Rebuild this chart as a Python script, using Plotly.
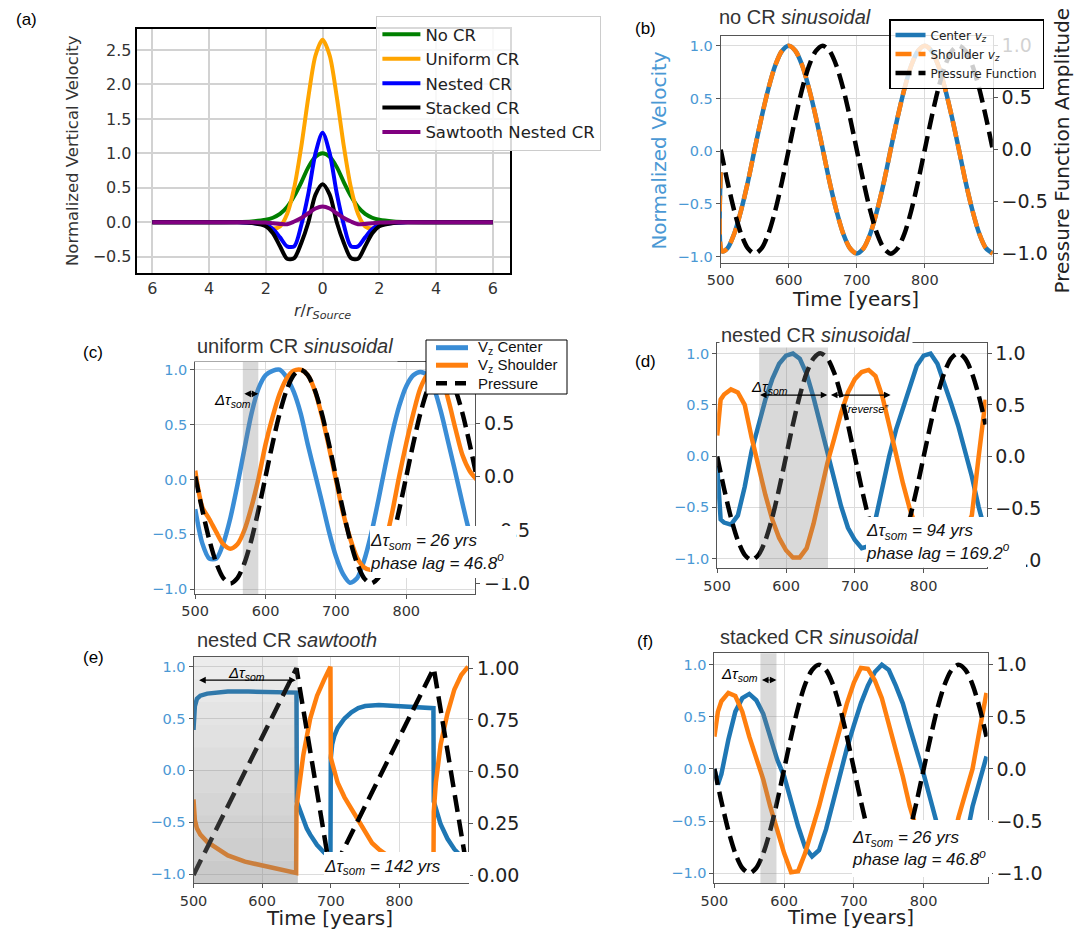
import plotly.graph_objects as go

W, H = 1087, 932

# ---------------- data ----------------
# (a) radial profiles
a_r = [-6, -4, -3, -2.5, -2, -1.75, -1.5, -1.25, -1, -0.75, -0.5, -0.25, 0,
       0.25, 0.5, 0.75, 1, 1.25, 1.5, 1.75, 2, 2.5, 3, 4, 6]
a_no_cr = [0, 0, 0.004, 0.012, 0.035, 0.065, 0.12, 0.22, 0.38, 0.58, 0.8, 0.95, 1.0,
           0.95, 0.8, 0.58, 0.38, 0.22, 0.12, 0.065, 0.035, 0.012, 0.004, 0, 0]
a_uniform = [0, 0, 0, -0.005, -0.04, -0.09, -0.06, 0.12, 0.5, 1.1, 1.82, 2.42, 2.65,
             2.42, 1.82, 1.1, 0.5, 0.12, -0.06, -0.09, -0.04, -0.005, 0, 0, 0]
a_nested = [0, 0, 0, -0.01, -0.04, -0.1, -0.22, -0.35, -0.35, -0.04, 0.42, 1.0, 1.3,
            1.0, 0.42, -0.04, -0.35, -0.35, -0.22, -0.1, -0.04, -0.01, 0, 0, 0]
a_stacked = [0, 0, 0, -0.01, -0.06, -0.16, -0.35, -0.53, -0.52, -0.3, 0.0, 0.4, 0.55,
             0.4, 0.0, -0.3, -0.52, -0.53, -0.35, -0.16, -0.06, -0.01, 0, 0, 0]
a_sawtooth = [0, 0, 0, 0, -0.005, -0.015, -0.025, -0.03, 0.01, 0.06, 0.13, 0.2, 0.23,
              0.2, 0.13, 0.06, 0.01, -0.03, -0.025, -0.015, -0.005, 0, 0, 0, 0]
a_names = ["No CR", "Uniform CR", "Nested CR", "Stacked CR", "Sawtooth Nested CR"]
a_ticks = [-6, -4, -2, 0, 2, 4, 6]
a_ticktext = ["6", "4", "2", "0", "2", "4", "6"]

# time axis
sin_years = [500, 510, 520, 530, 540, 550, 560, 570, 580, 590, 600, 610, 620, 630, 640,
             650, 660, 670, 680, 690, 700, 710, 720, 730, 740, 750, 760, 770, 780, 790,
             800, 810, 820, 830, 840, 850, 860, 870, 880, 890, 900]
pressure_sin = [0, -0.31, -0.59, -0.81, -0.95, -1.0, -0.95, -0.81, -0.59, -0.31, 0,
                0.31, 0.59, 0.81, 0.95, 1.0, 0.95, 0.81, 0.59, 0.31, 0,
                -0.31, -0.59, -0.81, -0.95, -1.0, -0.95, -0.81, -0.59, -0.31, 0,
                0.31, 0.59, 0.81, 0.95, 1.0, 0.95, 0.81, 0.59, 0.31, 0]

# (b) no CR sinusoidal
b_years = [500, 502] + sin_years[1:]
b_center = [-0.2, -0.95, -0.92, -0.78, -0.56, -0.29, 0.02, 0.32, 0.59, 0.81, 0.95, 1.00,
            0.95, 0.81, 0.59, 0.32, 0.02, -0.29, -0.56, -0.78, -0.92, -0.97,
            -0.92, -0.78, -0.56, -0.29, 0.02, 0.32, 0.59, 0.81, 0.95, 1.00,
            0.95, 0.81, 0.59, 0.32, 0.02, -0.29, -0.56, -0.78, -0.92, -0.97]
b_shoulder = b_center

# (c) uniform CR sinusoidal
c_center = [-0.27, -0.58, -0.72, -0.72, -0.58, -0.35, -0.05, 0.28, 0.6, 0.83, 0.95,
            0.99, 1.0, 0.93, 0.8, 0.6, 0.32, 0.06, -0.2, -0.47, -0.7, -0.86, -0.94,
            -0.9, -0.74, -0.5, -0.2, 0.12, 0.42, 0.67, 0.85, 0.95, 0.98, 0.95, 0.82,
            0.6, 0.33, 0.06, -0.22, -0.48, -0.65]
c_shoulder = [0.08, -0.25, -0.36, -0.48, -0.59, -0.63, -0.59, -0.46, -0.25, 0.01, 0.32,
              0.57, 0.78, 0.92, 0.99, 1.0, 0.95, 0.81, 0.58, 0.3, 0.0, -0.3, -0.53,
              -0.71, -0.8, -0.82, -0.76, -0.58, -0.3, 0.03, 0.33, 0.6, 0.83, 0.95, 0.98,
              0.93, 0.72, 0.46, 0.22, 0.08, 0.0]
c_names = ["V<sub>z</sub> Center", "V<sub>z</sub> Shoulder", "Pressure"]

# (d) nested CR sinusoidal
d_years = [500, 505] + sin_years[1:40]
d_center = [-0.1, -0.62, -0.65, -0.67, -0.58, -0.3, 0.05, 0.3, 0.55, 0.75, 0.9, 0.98,
            1.0, 0.95, 0.8, 0.57, 0.3, 0.04, -0.25, -0.49, -0.7, -0.82, -0.9, -0.88,
            -0.62, -0.3, 0.0, 0.26, 0.46, 0.68, 0.88, 0.98, 1.0, 0.9, 0.72, 0.51, 0.3,
            0.06, -0.2, -0.5, -0.75]
d_shoulder = [0.2, 0.55, 0.6, 0.65, 0.62, 0.5, 0.18, -0.12, -0.38, -0.62, -0.8, -0.92,
              -0.99, -0.99, -0.9, -0.66, -0.37, -0.07, 0.17, 0.42, 0.62, 0.75, 0.82,
              0.84, 0.78, 0.58, 0.3, 0.0, -0.27, -0.52, -0.72, -0.86, -0.95, -0.99,
              -0.97, -0.9, -0.82, -0.72, -0.58, 0.0, 0.55]

# (e) nested CR sawtooth
e_center_t = [500, 502, 505, 510, 520, 530, 550, 580, 620, 650,
              650.5, 655, 660, 665, 670, 680, 690, 699.5,
              700, 702, 705, 710, 720, 730, 740, 750, 770, 800, 830, 849.5,
              850, 855, 860, 870, 880, 890, 900]
e_center = [0.39, 0.62, 0.69, 0.72, 0.74, 0.75, 0.76, 0.76, 0.76, 0.75,
            -0.3, -0.38, -0.48, -0.56, -0.62, -0.72, -0.79, -0.84,
            0.12, 0.25, 0.33, 0.41, 0.5, 0.56, 0.6, 0.62, 0.63, 0.62, 0.61, 0.6,
            -0.3, -0.42, -0.52, -0.66, -0.76, -0.83, -0.88]
e_shoulder_t = [500, 502, 505, 510, 520, 535, 550, 575, 600, 625,
                649.5, 650, 655, 660, 670, 680, 690, 699.5,
                700, 705, 710, 720, 730, 740, 750, 760, 770, 780,
                800, 825, 849.5, 850, 853, 860, 870, 880, 890, 900]
e_shoulder = [-0.28, -0.48, -0.56, -0.62, -0.69, -0.76, -0.82, -0.88, -0.92, -0.96,
              -0.99, -0.35, -0.1, 0.15, 0.5, 0.72, 0.87, 1.0,
              0.12, 0.0, -0.12, -0.26, -0.37, -0.48, -0.6, -0.7, -0.76, -0.81,
              -0.88, -0.94, -0.98, -0.4, -0.12, 0.25, 0.55, 0.78, 0.92, 1.0]
e_pressure_t = [500, 650, 700, 850, 900]
e_pressure = [0, 1, 0, 1, 0]

# (f) stacked CR sinusoidal
f_years = [500, 505] + sin_years[1:40]
f_center = [0.0, -0.15, -0.05, 0.28, 0.55, 0.68, 0.72, 0.66, 0.53, 0.32, 0.09, -0.07,
            -0.33, -0.55, -0.75, -0.84, -0.78, -0.58, -0.32, -0.05, 0.2, 0.42, 0.63,
            0.8, 0.93, 1.0, 0.95, 0.8, 0.63, 0.4, 0.18, -0.05, -0.3, -0.55, -0.75,
            -0.88, -0.9, -0.7, -0.36, -0.12, 0.12]
f_shoulder = [0.31, 0.55, 0.65, 0.73, 0.7, 0.55, 0.31, 0.1, -0.1, -0.36, -0.6, -0.81,
              -0.99, -0.98, -0.81, -0.6, -0.36, -0.1, 0.15, 0.4, 0.63, 0.83, 0.97,
              0.96, 0.85, 0.68, 0.44, 0.18, -0.07, -0.36, -0.6, -0.8, -0.92, -0.97,
              -0.92, -0.75, -0.46, -0.22, 0.0, 0.37, 0.73]

year_ticks = [500, 600, 700, 800]
vel_ticks = [-1, -0.5, 0, 0.5, 1]
vel_ticktext = ["\u22121.0", "\u22120.5", "0.0", "0.5", "1.0"]
saw_ticks = [0, 0.25, 0.5, 0.75, 1.0]
saw_ticktext = ["0.00", "0.25", "0.50", "0.75", "1.00"]

# ---------------- style ----------------
BLUE = "#1f77b4"
BLUE_C = "#3a8dd6"
ORANGE = "#ff7f0e"
TICKBLUE = "#4a98d4"
FRAME = "#555555"
GRID = "#dcdcdc"
TXT = "#2b2b2b"
DJ = "DejaVu Sans"
LS = "Liberation Sans"
DASH = "16px,7px"
LW = 4.5


def px(x):
    return x / W


def py(y):
    return 1 - y / H


def xd(a, b):
    return [a / W, b / W]


def yd(top, bottom):
    return [1 - bottom / H, 1 - top / H]


fig = go.Figure()

# (a)
a_colors = ["green", "orange", "blue", "black", "purple"]
for name, vals, col in zip(a_names, [a_no_cr, a_uniform, a_nested, a_stacked, a_sawtooth], a_colors):
    fig.add_trace(go.Scatter(x=a_r, y=vals, mode="lines", name=name,
                             line=dict(color=col, width=4, shape="spline", smoothing=0.8),
                             xaxis="x", yaxis="y", legend="legend"))

# (b)
fig.add_trace(go.Scatter(x=b_years, y=b_center, mode="lines", name="Center <i>v<sub>z</sub></i>",
                         line=dict(color=BLUE, width=LW, shape="spline", smoothing=0.8),
                         xaxis="x2", yaxis="y2", legend="legend2"))
fig.add_trace(go.Scatter(x=b_years, y=b_shoulder, mode="lines", name="Shoulder <i>v<sub>z</sub></i>",
                         line=dict(color=ORANGE, width=LW, dash=DASH, shape="spline", smoothing=0.8),
                         xaxis="x2", yaxis="y2", legend="legend2"))
fig.add_trace(go.Scatter(x=sin_years, y=pressure_sin, mode="lines", name="Pressure Function",
                         line=dict(color="black", width=LW, dash=DASH, shape="spline", smoothing=0.8),
                         xaxis="x2", yaxis="y3", legend="legend2"))

# (c)
fig.add_trace(go.Scatter(x=sin_years, y=c_center, mode="lines", name=c_names[0], showlegend=False,
                         line=dict(color=BLUE_C, width=LW, shape="spline", smoothing=0.8),
                         xaxis="x3", yaxis="y4"))
fig.add_trace(go.Scatter(x=sin_years, y=c_shoulder, mode="lines", name=c_names[1], showlegend=False,
                         line=dict(color=ORANGE, width=LW, shape="spline", smoothing=0.8),
                         xaxis="x3", yaxis="y4"))
fig.add_trace(go.Scatter(x=sin_years, y=pressure_sin, mode="lines", name=c_names[2], showlegend=False,
                         line=dict(color="black", width=LW, dash=DASH, shape="spline", smoothing=0.8),
                         xaxis="x3", yaxis="y5"))

# (d)
fig.add_trace(go.Scatter(x=d_years, y=d_center, mode="lines", showlegend=False,
                         line=dict(color=BLUE, width=LW), xaxis="x4", yaxis="y6"))
fig.add_trace(go.Scatter(x=d_years, y=d_shoulder, mode="lines", showlegend=False,
                         line=dict(color=ORANGE, width=LW), xaxis="x4", yaxis="y6"))
fig.add_trace(go.Scatter(x=sin_years[:40], y=pressure_sin[:40], mode="lines", showlegend=False,
                         line=dict(color="black", width=LW, dash=DASH, shape="spline", smoothing=0.8),
                         xaxis="x4", yaxis="y7"))

# (e)
fig.add_trace(go.Scatter(x=e_center_t, y=e_center, mode="lines", showlegend=False,
                         line=dict(color=BLUE, width=LW), xaxis="x5", yaxis="y8"))
fig.add_trace(go.Scatter(x=e_shoulder_t, y=e_shoulder, mode="lines", showlegend=False,
                         line=dict(color=ORANGE, width=LW), xaxis="x5", yaxis="y8"))
fig.add_trace(go.Scatter(x=e_pressure_t, y=e_pressure, mode="lines", showlegend=False,
                         line=dict(color="black", width=LW, dash="17px,8px"), xaxis="x5", yaxis="y9"))

# (f)
fig.add_trace(go.Scatter(x=f_years, y=f_center, mode="lines", showlegend=False,
                         line=dict(color=BLUE, width=LW), xaxis="x6", yaxis="y10"))
fig.add_trace(go.Scatter(x=f_years, y=f_shoulder, mode="lines", showlegend=False,
                         line=dict(color=ORANGE, width=LW), xaxis="x6", yaxis="y10"))
fig.add_trace(go.Scatter(x=sin_years[:40], y=pressure_sin[:40], mode="lines", showlegend=False,
                         line=dict(color="black", width=LW, dash=DASH, shape="spline", smoothing=0.8),
                         xaxis="x6", yaxis="y11"))


# ---------------- axes ----------------
def xax(dom, rng, anchor, tv, tt, size=14.5, lc=FRAME, lw=1, gc=GRID, gw=1, ticks="outside"):
    return dict(domain=dom, range=rng, anchor=anchor, showline=True, mirror=True,
                linecolor=lc, linewidth=lw, showgrid=True, gridcolor=gc, gridwidth=gw,
                zeroline=False, tickmode="array", tickvals=tv, ticktext=tt,
                ticks=ticks, ticklen=4, tickcolor=lc,
                tickfont=dict(family=DJ, size=size, color="#333"))


def yleft(dom, rng, anchor, tv, tt, size=14.5, color=TICKBLUE, lc=FRAME, lw=1,
          gc=GRID, gw=1, mirror=False, ticks="outside"):
    return dict(domain=dom, range=rng, anchor=anchor, showline=True, mirror=mirror,
                linecolor=lc, linewidth=lw, showgrid=True, gridcolor=gc, gridwidth=gw,
                zeroline=False, tickmode="array", tickvals=tv, ticktext=tt,
                ticks=ticks, ticklen=4, tickcolor=lc,
                tickfont=dict(family=DJ, size=size, color=color))


def yright(overlay, anchor, rng, tv, tt):
    return dict(overlaying=overlay, side="right", anchor=anchor, range=rng,
                showline=True, linecolor=FRAME, linewidth=1, showgrid=False,
                zeroline=False, tickmode="array", tickvals=tv, ticktext=tt,
                ticks="outside", ticklen=4, tickcolor=FRAME,
                tickfont=dict(family=DJ, size=19, color="#222"))


yt = [str(v) for v in year_ticks]
layout = dict(
    width=W, height=H,
    margin=dict(l=0, r=0, t=0, b=0, autoexpand=False),
    paper_bgcolor="white", plot_bgcolor="white",
    font=dict(family=DJ, color=TXT),
    showlegend=True,
    # (a)
    xaxis=xax(xd(136.7, 509.6), [-6.55, 6.59], "y", a_ticks, a_ticktext, size=16,
              lc="black", lw=2, gc="#d2d2d2", gw=1.5, ticks=""),
    yaxis=yleft(yd(29, 273), [-0.737, 2.805], "x", [-0.5, 0, 0.5, 1, 1.5, 2, 2.5],
                ["\u22120.5", "0.0", "0.5", "1.0", "1.5", "2.0", "2.5"], size=16,
                color="#333", lc="black", lw=2, gc="#d2d2d2", gw=1.5, mirror=True, ticks=""),
    # (b)
    xaxis2=xax(xd(720.7, 992.8), [500, 900], "y2", year_ticks, yt),
    yaxis2=yleft(yd(35.7, 262.7), [-1.057, 1.095], "x2", vel_ticks, vel_ticktext),
    yaxis3=yright("y2", "x2", [-1.087, 1.096], vel_ticks, vel_ticktext),
    # (c)
    xaxis3=xax(xd(195.2, 475.2), [500, 898], "y4", year_ticks, yt),
    yaxis4=yleft(yd(361.7, 594), [-1.043, 1.073], "x3", vel_ticks, vel_ticktext),
    yaxis5=yright("y4", "x3", [-1.099, 1.075], vel_ticks, vel_ticktext),
    # (d)
    xaxis4=xax(xd(717.2, 986.5), [500, 891.3], "y6", year_ticks, yt),
    yaxis6=yleft(yd(343.3, 568.3), [-1.096, 1.1], "x4", vel_ticks, vel_ticktext),
    yaxis7=yright("y6", "x4", [-1.08, 1.095], vel_ticks, vel_ticktext),
    # (e)
    xaxis5=xax(xd(193.5, 468.3), [500, 900.3], "y8", year_ticks, yt),
    yaxis8=yleft(yd(656.7, 883.3), [-1.089, 1.096], "x5", vel_ticks, vel_ticktext),
    yaxis9=yright("y8", "x5", [-0.04, 1.056], saw_ticks, saw_ticktext),
    # (f)
    xaxis6=xax(xd(714.4, 987.6), [500, 891.6], "y10", year_ticks, yt),
    yaxis10=yleft(yd(653.3, 883.3), [-1.097, 1.11], "x6", vel_ticks, vel_ticktext),
    yaxis11=yright("y10", "x6", [-1.097, 1.11], vel_ticks, vel_ticktext),
    # legends
    legend=dict(x=px(376.4), y=py(16), xanchor="left", yanchor="top",
                bgcolor="rgba(255,255,255,0.85)", bordercolor="#cccccc", borderwidth=1,
                font=dict(family=DJ, size=16.5, color="#222"), itemwidth=38),
    legend2=dict(x=px(889), y=py(19), xanchor="left", yanchor="top",
                 bgcolor="rgba(255,255,255,0.8)", bordercolor="black", borderwidth=1.5,
                 font=dict(family=DJ, size=12, color="#222"), itemwidth=30),
)
fig.update_layout(**layout)

# ---------------- shading ----------------
SHADE = "rgba(128,128,128,0.3)"
fig.add_shape(type="rect", xref="x3", yref="y4 domain", x0=567.7, x1=589.7, y0=0, y1=1,
              fillcolor=SHADE, line_width=0, layer="above")
fig.add_shape(type="rect", xref="x4", yref="y6 domain", x0=561, x1=661, y0=0, y1=1,
              fillcolor=SHADE, line_width=0, layer="above")
fig.add_shape(type="rect", xref="x6", yref="y10 domain", x0=566, x1=589, y0=0, y1=1,
              fillcolor=SHADE, line_width=0, layer="above")
n_bands = 10
for i in range(n_bands):
    alpha = 0.42 - (0.42 - 0.15) * i / (n_bands - 1)
    fig.add_shape(type="rect", xref="x5", yref="y8 domain", x0=500, x1=652,
                  y0=i / n_bands, y1=(i + 1) / n_bands,
                  fillcolor="rgba(128,128,128,%.3f)" % alpha, line_width=0, layer="above")

# legend box of panel (c)
fig.add_shape(type="rect", xref="paper", yref="paper", x0=px(426), x1=px(567),
              y0=py(394), y1=py(340), fillcolor="white", line=dict(color="black", width=1),
              layer="above")
c_leg_y = [347.7, 365.2, 383.3]
c_leg_style = [dict(color=BLUE_C, width=5), dict(color=ORANGE, width=5),
               dict(color="black", width=4.5, dash="11px,8px")]
for yy, st in zip(c_leg_y, c_leg_style):
    fig.add_shape(type="line", xref="paper", yref="paper", x0=px(436), x1=px(468),
                  y0=py(yy), y1=py(yy), line=st, layer="above")

# ---------------- annotations ----------------
ann = []


def label(text, x, y, size, family=LS, color="black", xanchor="center", **kw):
    d = dict(text=text, x=px(x), y=py(y), xref="paper", yref="paper", showarrow=False,
             xanchor=xanchor, yanchor="middle", font=dict(family=family, size=size, color=color))
    d.update(kw)
    ann.append(d)


# panel letters
for t, x, y in [("(a)", 26, 20), ("(b)", 645, 28), ("(c)", 93, 353),
                ("(d)", 645, 362), ("(e)", 93, 657), ("(f)", 645, 641)]:
    label(t, x, y, 17)

# legend (c) texts
for t, yy in zip(c_names, c_leg_y):
    label(t, 476, yy, 15, color="#111", xanchor="left")

# panel titles
label("no CR <i>sinusoidal</i>", 717, 17, 20, color="#333", xanchor="left")
label("uniform CR <i>sinusoidal</i>", 192, 346, 20, color="#333", xanchor="left",
      bgcolor="white", borderpad=4)
label("nested CR <i>sinusoidal</i>", 719, 335, 20, color="#333", xanchor="left",
      bgcolor="white", borderpad=1)
label("nested CR <i>sawtooth</i>", 195, 640, 20, color="#333", xanchor="left")
label("stacked CR <i>sinusoidal</i>", 717.6, 637, 20, color="#333", xanchor="left")

# axis titles
label("Normalized Vertical Velocity", 72, 151, 16.5, family=DJ, color="#333", textangle=-90)
label("<i>r</i>/<i>r</i><sub><i>Source</i></sub>", 322, 311, 16, family=DJ, color="#333")
label("Normalized Velocity", 658.6, 151, 20, family=DJ, color=TICKBLUE, textangle=-90)
label("Pressure Function Amplitude", 1061.5, 151, 20, family=DJ, color="#222", textangle=-90)
label("Time [years]", 855.7, 299, 20, family=DJ, color="#222")
label("Time [years]", 329, 918, 20, family=DJ, color="#222")
label("Time [years]", 850.5, 917, 20, family=DJ, color="#222")

# delta-tau labels
label("<i>\u0394\u03c4<sub>som</sub></i>", 232, 400, 15)
label("<i>\u0394\u03c4<sub>som</sub></i>", 769, 387, 15)
label("<i>\u201creverse\u201d</i>", 866, 409, 11)
label("<i>\u0394\u03c4<sub>som</sub></i>", 246.5, 673, 15)
label("<i>\u0394\u03c4<sub>som</sub></i>", 739.7, 674, 15)


def darrow(xr, yr, x0, x1, y):
    ann.append(dict(x=x1, y=y, xref=xr, yref=yr, ax=x0, ay=y, axref=xr, ayref=yr,
                    text="", showarrow=True, arrowhead=2, arrowside="end+start",
                    arrowsize=1.1, arrowwidth=1.2, arrowcolor="black",
                    standoff=0, startstandoff=0))


darrow("x3", "y4", 567.7, 589.7, 0.78)
darrow("x4", "y6", 560, 660, 0.595)
darrow("x4", "y6", 663, 752, 0.595)
darrow("x5", "y8", 506, 649, 0.87)
darrow("x6", "y10", 566, 589, 0.854)


# result boxes
def box(lines, x, y, w, h):
    ann.append(dict(text="<br>".join("<i>%s</i>" % s for s in lines),
                    x=px(x), y=py(y), xref="paper", yref="paper", xanchor="left",
                    yanchor="top", width=w, height=h, align="left", valign="middle",
                    bgcolor="white", borderpad=0, borderwidth=0, showarrow=False,
                    font=dict(family=LS, size=17, color="#111")))


box(["\u0394\u03c4<sub>som</sub> = 26 yrs", "phase lag = 46.8<sup>o</sup>"], 370, 526, 146, 52)
box(["\u0394\u03c4<sub>som</sub> = 94 yrs", "phase lag = 169.2<sup>o</sup>"], 866, 517, 160, 50)
box(["\u0394\u03c4<sub>som</sub> = 142 yrs"], 323.7, 852, 146, 31)
box(["\u0394\u03c4<sub>som</sub> = 26 yrs", "phase lag = 46.8<sup>o</sup>"], 852, 820, 140, 57)

fig.update_layout(annotations=ann)

fig.write_html("out.html", config={"displayModeBar": False},
               post_script="document.body.style.margin='0px';document.body.style.padding='0px';")
